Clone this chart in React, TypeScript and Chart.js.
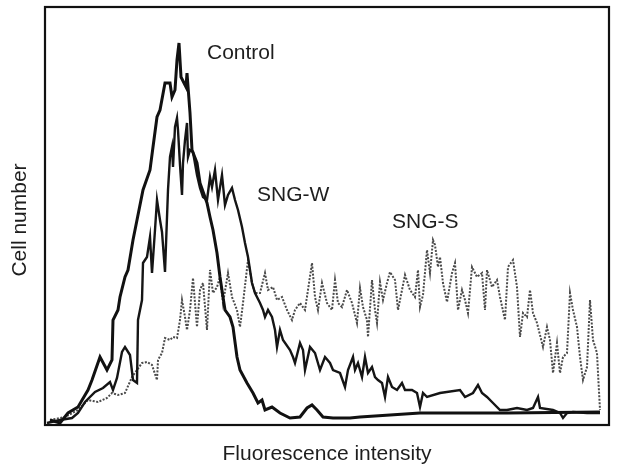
import React, { useEffect, useRef } from "react";
import { Chart, registerables } from "chart.js";

Chart.register(...registerables);

// Fluorescence channel (arbitrary units) and cell counts
const controlX = [5, 15, 23, 33, 43, 47, 55, 62, 67, 68, 73, 75, 80, 83, 88, 92, 98, 105, 108, 112, 115, 120, 125, 127, 130, 132, 134, 136, 141, 142, 145, 147, 152, 155, 162, 165, 168, 172, 175, 178, 180, 185, 188, 192, 195, 202, 208, 213, 217, 220, 227, 235, 245, 255, 262, 267, 272, 278, 288, 305, 315, 375, 462, 555];
const controlY = [5, 2, 12, 18, 35, 45, 68, 55, 65, 105, 115, 128, 148, 155, 185, 205, 235, 255, 278, 308, 315, 342, 342, 328, 335, 365, 382, 348, 338, 352, 312, 275, 262, 242, 222, 208, 195, 172, 148, 128, 115, 108, 98, 68, 55, 42, 32, 22, 25, 15, 18, 12, 7, 8, 17, 20, 15, 8, 7, 7, 8, 12, 12, 13];

const sngWX = [2, 15, 27, 33, 40, 50, 58, 65, 68, 72, 77, 80, 85, 88, 92, 93, 97, 98, 102, 105, 107, 110, 112, 115, 117, 120, 123, 125, 127, 128, 130, 132, 133, 135, 137, 138, 140, 142, 143, 145, 148, 152, 155, 158, 162, 165, 167, 170, 173, 177, 180, 183, 187, 190, 193, 197, 200, 203, 205, 207, 210, 215, 218, 220, 223, 227, 230, 232, 235, 238, 245, 248, 250, 255, 258, 260, 265, 270, 275, 280, 285, 288, 295, 300, 303, 308, 310, 313, 317, 320, 323, 327, 330, 333, 337, 340, 343, 347, 352, 357, 360, 367, 372, 375, 378, 382, 395, 415, 420, 428, 433, 437, 442, 448, 455, 462, 472, 482, 488, 493, 495, 508, 515, 518, 522, 528, 542, 555];
const sngWY = [2, 5, 7, 12, 23, 33, 37, 43, 35, 47, 73, 78, 70, 45, 42, 105, 125, 162, 168, 188, 152, 195, 225, 205, 193, 153, 235, 268, 278, 258, 298, 307, 295, 260, 230, 262, 285, 302, 268, 275, 273, 250, 237, 228, 225, 248, 238, 255, 225, 250, 220, 230, 237, 225, 215, 198, 182, 168, 155, 142, 132, 122, 115, 108, 115, 108, 95, 78, 95, 85, 75, 68, 62, 82, 75, 55, 78, 72, 55, 68, 62, 55, 52, 38, 55, 68, 55, 62, 48, 68, 52, 58, 48, 45, 42, 28, 48, 38, 35, 42, 35, 35, 32, 18, 32, 28, 32, 35, 28, 32, 40, 32, 28, 22, 15, 15, 17, 15, 17, 28, 17, 15, 12, 7, 12, 13, 12, 12];

const sngSX = [5, 20, 33, 43, 53, 62, 67, 73, 80, 87, 92, 97, 102, 107, 112, 113, 117, 120, 125, 128, 132, 135, 137, 140, 142, 145, 148, 150, 152, 155, 158, 162, 165, 168, 172, 175, 178, 183, 187, 192, 195, 198, 203, 207, 210, 215, 220, 223, 228, 232, 237, 242, 247, 250, 255, 260, 267, 270, 273, 277, 282, 287, 290, 293, 297, 302, 307, 312, 315, 318, 322, 323, 327, 330, 332, 335, 338, 342, 345, 350, 353, 357, 360, 365, 370, 373, 375, 378, 382, 385, 388, 390, 393, 395, 398, 402, 407, 410, 413, 417, 420, 423, 427, 432, 437, 440, 442, 447, 452, 455, 460, 463, 468, 472, 475, 478, 482, 485, 488, 492, 498, 502, 505, 508, 512, 515, 518, 522, 525, 528, 532, 535, 538, 542, 545, 548, 552, 553, 555];
const sngSY = [5, 8, 15, 25, 23, 27, 32, 30, 32, 48, 55, 62, 63, 60, 45, 65, 72, 87, 85, 88, 87, 105, 125, 108, 95, 115, 147, 122, 98, 135, 142, 95, 155, 132, 138, 148, 122, 152, 128, 115, 98, 122, 165, 142, 132, 132, 152, 135, 138, 125, 128, 115, 105, 115, 122, 115, 162, 128, 115, 142, 122, 115, 145, 122, 118, 135, 122, 102, 137, 118, 105, 88, 145, 115, 102, 143, 125, 142, 153, 145, 115, 135, 150, 135, 128, 155, 118, 130, 175, 152, 185, 180, 158, 168, 142, 123, 152, 162, 115, 135, 125, 112, 158, 148, 152, 115, 155, 138, 145, 128, 105, 158, 165, 138, 88, 112, 108, 135, 112, 102, 78, 98, 85, 52, 82, 52, 68, 72, 132, 115, 98, 68, 45, 58, 125, 85, 72, 52, 15];

const seriesNames = ["Control", "SNG-W", "SNG-S"];
const xTitle = "Fluorescence intensity";
const yTitle = "Cell number";

const FONT = '"Liberation Sans", Arial, Helvetica, sans-serif';

const toPoints = (xs: number[], ys: number[]) => xs.map((x, i) => ({ x, y: ys[i] }));

const labelAnchors: Record<string, { x: number; y: number }> = {
  Control: { x: 162, y: 372 },
  "SNG-W": { x: 212, y: 230 },
  "SNG-S": { x: 347, y: 203 },
};

const decorPlugin = {
  id: "decor",
  afterDatasetsDraw(chart: any) {
    const { ctx, chartArea, scales } = chart;
    ctx.save();
    ctx.strokeStyle = "#111";
    ctx.lineWidth = 2.2;
    ctx.strokeRect(chartArea.left, chartArea.top, chartArea.right - chartArea.left, chartArea.bottom - chartArea.top);
    ctx.fillStyle = "#1e1e1e";
    ctx.font = `21px ${FONT}`;
    ctx.textBaseline = "middle";
    ctx.textAlign = "left";
    seriesNames.forEach((name) => {
      const a = labelAnchors[name];
      ctx.fillText(name, scales.x.getPixelForValue(a.x), scales.y.getPixelForValue(a.y));
    });
    ctx.textAlign = "center";
    ctx.fillText(xTitle, (chartArea.left + chartArea.right) / 2, chartArea.bottom + 29);
    ctx.translate(chartArea.left - 25, (chartArea.top + chartArea.bottom) / 2 + 4);
    ctx.rotate(-Math.PI / 2);
    ctx.fillText(yTitle, 0, 0);
    ctx.restore();
  },
};

export default function App() {
  const ref = useRef<HTMLCanvasElement>(null);
  useEffect(() => {
    document.body.style.margin = "0";
    document.body.style.background = "#fff";
    const chart = new Chart(ref.current!, {
      type: "scatter",
      data: {
        datasets: [
          {
            label: seriesNames[0],
            data: toPoints(controlX, controlY),
            showLine: true,
            borderColor: "#111",
            borderWidth: 3,
            pointRadius: 0,
            tension: 0,
          },
          {
            label: seriesNames[1],
            data: toPoints(sngWX, sngWY),
            showLine: true,
            borderColor: "#151515",
            borderWidth: 2.4,
            pointRadius: 0,
            tension: 0,
          },
          {
            label: seriesNames[2],
            data: toPoints(sngSX, sngSY),
            showLine: true,
            borderColor: "#4a4a4a",
            borderWidth: 2,
            borderDash: [2, 1.5],
            pointRadius: 0,
            tension: 0,
          },
        ],
      },
      options: {
        animation: false,
        responsive: false,
        maintainAspectRatio: false,
        layout: { padding: { left: 45, right: 8, top: 7, bottom: 45 } },
        plugins: { legend: { display: false }, tooltip: { enabled: false } },
        scales: {
          x: { type: "linear", min: 0, max: 564, display: false },
          y: { type: "linear", min: 0, max: 418, display: false },
        },
      },
      plugins: [decorPlugin],
    });
    return () => chart.destroy();
  }, []);
  return (
    <div style={{ width: 617, height: 470 }}>
      <canvas ref={ref} width={617} height={470} style={{ display: "block" }} />
    </div>
  );
}
